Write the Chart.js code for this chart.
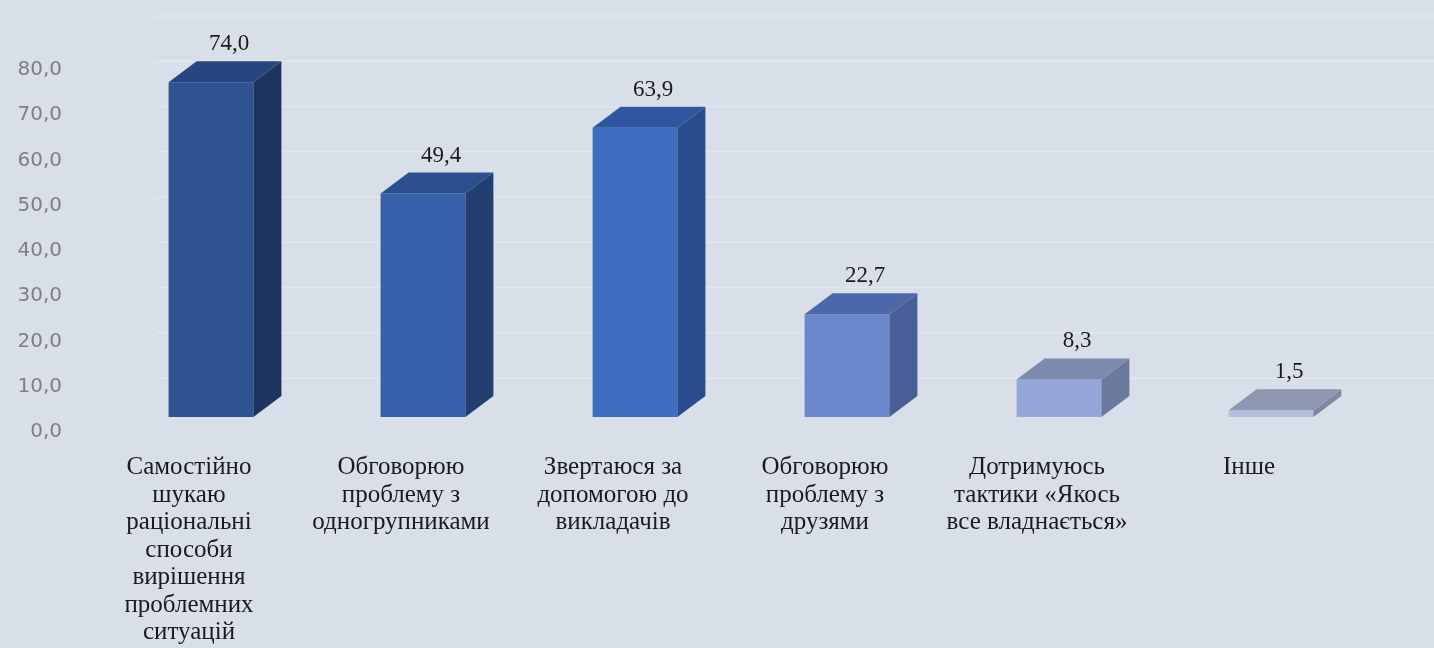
<!DOCTYPE html>
<html lang="uk">
<head>
    <meta charset="UTF-8">
    <title>Стратегії вирішення проблем</title>
    <script src="https://cdn.jsdelivr.net/npm/chart.js"></script>
    <style>
        html, body {
            margin: 0;
            padding: 0;
            background-color: #d9dfe8;
            overflow: hidden;
        }
        #chart {
            display: block;
        }
    </style>
</head>
<body>
<canvas id="chart" width="1434" height="648"></canvas>
<script>
    // values
    const categories = [
        ['Самостійно', 'шукаю', 'раціональні', 'способи', 'вирішення', 'проблемних', 'ситуацій'],
        ['Обговорюю', 'проблему з', 'одногрупниками'],
        ['Звертаюся за', 'допомогою до', 'викладачів'],
        ['Обговорюю', 'проблему з', 'друзями'],
        ['Дотримуюсь', 'тактики «Якось', 'все владнається»'],
        ['Інше']
    ];
    const values = [74.0, 49.4, 63.9, 22.7, 8.3, 1.5];
    const yTicks = [0, 10, 20, 30, 40, 50, 60, 70, 80];

    const frontColors = ['#2f5293', '#3561ab', '#3e6dc0', '#6b88cd', '#94a7d8', '#b4bedb'];
    const topColors = ['#27467f', '#2b4f8f', '#2f56a0', '#4c68a9', '#7b8aad', '#8e97b1'];
    const sideColors = ['#1e3460', '#233f72', '#2a4b8c', '#485e96', '#6c799c', '#7e88a5'];

    const DEPTH_X = 28, DEPTH_Y = 21;      // bar depth
    const WALL_X = 52, WALL_Y = 39;        // back wall offset from front plane
    const FLOOR_X = 20, FLOOR_Y = 15;      // label plane offset (toward viewer)

    function fmt(v) {
        return v.toFixed(1).replace('.', ',');
    }

    const wallPlugin = {
        id: 'wall',
        beforeDatasetsDraw(chart) {
            const ctx = chart.ctx;
            const y = chart.scales.y;
            const left = chart.chartArea.left;
            ctx.save();
            ctx.lineWidth = 1.5;
            yTicks.forEach(t => {
                const py = y.getPixelForValue(t);
                // side wall (fainter)
                ctx.strokeStyle = '#dfe4eb';
                ctx.beginPath();
                ctx.moveTo(left - FLOOR_X, py + FLOOR_Y);
                ctx.lineTo(left + WALL_X, py - WALL_Y);
                ctx.stroke();
                // back wall
                ctx.strokeStyle = '#e2e6ed';
                ctx.beginPath();
                ctx.moveTo(left + WALL_X, py - WALL_Y);
                ctx.lineTo(chart.width, py - WALL_Y);
                ctx.stroke();
            });
            ctx.restore();
        },
        afterDatasetsDraw(chart) {
            const ctx = chart.ctx;
            const meta = chart.getDatasetMeta(0);
            ctx.save();
            meta.data.forEach((bar, i) => {
                const x0 = bar.x - bar.width / 2;
                const x1 = bar.x + bar.width / 2;
                const top = bar.y;
                const bottom = bar.base;

                // right face
                ctx.fillStyle = sideColors[i];
                ctx.beginPath();
                ctx.moveTo(x1, top);
                ctx.lineTo(x1 + DEPTH_X, top - DEPTH_Y);
                ctx.lineTo(x1 + DEPTH_X, bottom - DEPTH_Y);
                ctx.lineTo(x1, bottom);
                ctx.closePath();
                ctx.fill();

                // top face
                ctx.fillStyle = topColors[i];
                ctx.beginPath();
                ctx.moveTo(x0, top);
                ctx.lineTo(x0 + DEPTH_X, top - DEPTH_Y);
                ctx.lineTo(x1 + DEPTH_X, top - DEPTH_Y);
                ctx.lineTo(x1, top);
                ctx.closePath();
                ctx.fill();

                // value label
                ctx.fillStyle = '#1a1a1a';
                ctx.font = '23px "Liberation Serif", serif';
                ctx.textAlign = 'center';
                ctx.textBaseline = 'middle';
                ctx.fillText(fmt(values[i]), bar.x + 18, top - 38);
            });
            ctx.restore();
        }
    };

    new Chart(document.getElementById('chart'), {
        type: 'bar',
        data: {
            labels: categories,
            datasets: [{
                data: values,
                backgroundColor: frontColors,
                borderWidth: 0,
                barPercentage: 0.4,
                categoryPercentage: 1.0
            }]
        },
        options: {
            responsive: false,
            devicePixelRatio: 1,
            animation: false,
            layout: {
                padding: {top: 47, left: 0, right: 57, bottom: 0}
            },
            plugins: {
                legend: {display: false},
                tooltip: {enabled: false}
            },
            scales: {
                y: {
                    min: 0,
                    max: 80,
                    afterFit(scale) {
                        scale.width = 105;
                    },
                    afterBuildTicks(scale) {
                        scale.ticks = yTicks.map(v => ({value: v}));
                    },
                    grid: {display: false, drawTicks: false},
                    border: {display: false},
                    ticks: {
                        padding: 43,
                        labelOffset: 15,
                        color: '#7f7f7f',
                        font: {family: '"DejaVu Sans", sans-serif', size: 20},
                        callback: v => fmt(v)
                    }
                },
                x: {
                    afterFit(scale) {
                        scale.height = 231;
                    },
                    grid: {display: false, drawTicks: false},
                    border: {display: false},
                    ticks: {
                        padding: 37,
                        labelOffset: -22,
                        maxRotation: 0,
                        autoSkip: false,
                        color: '#1a1a1a',
                        font: {family: '"Liberation Serif", serif', size: 25, lineHeight: 1.1}
                    }
                }
            }
        },
        plugins: [wallPlugin]
    });
</script>
</body>
</html>
